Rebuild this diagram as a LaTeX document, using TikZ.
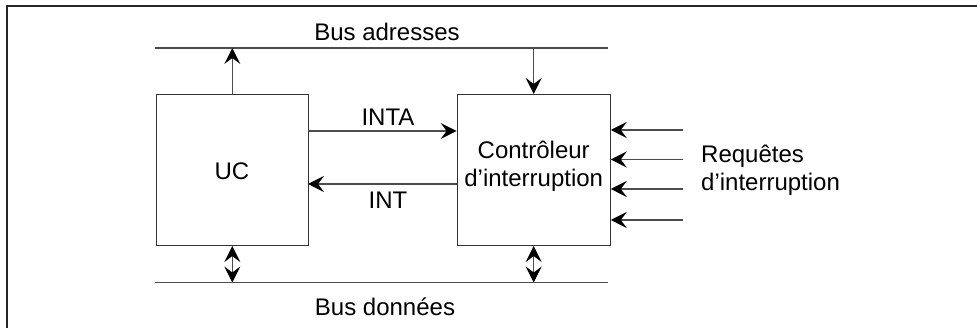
\documentclass[tikz,border=0pt]{standalone}
\usepackage{fontspec}
\setmainfont{Liberation Sans}
\usetikzlibrary{arrows.meta}
\begin{document}
\begin{tikzpicture}[x=1pt,y=-1pt,
  ln/.style={line width=1.1pt, draw=black!70},
  tp/.tip={Stealth[length=16pt,width=16pt,inset=6pt,black]},
  tip/.style={-tp},
  dtip/.style={tp-tp},
  blk/.style={line width=1.1pt, draw=black!80, minimum width=152pt, minimum height=151pt, inner sep=0pt},
  lbl/.style={font=\fontsize{24}{28}\selectfont, inner sep=0pt, align=center}
]
\useasboundingbox (0,0) rectangle (977,328);
\draw[line width=2pt, draw=black!85] (7,329) -- (7,6) -- (978,6);

\node[blk] (uc) at (232.3,170) {};
\node[blk, minimum width=153pt] (ctrl) at (533.7,170) {};
\node[lbl] (uclbl) at (232,171) {UC};
\node[lbl] (ctrllbl) at (533.7,166) {Contrôleur\\d’interruption};

% buses
\coordinate (ba1) at (155,48);
\coordinate (ba2) at (608,48);
\coordinate (bd1) at (155,282.5);
\coordinate (bd2) at (608,282.5);
\draw[ln] (ba1) -- (ba2);
\draw[ln] (bd1) -- (bd2);
\node[lbl] (balbl) at (387,32) {Bus adresses};
\node[lbl] (bdlbl) at (385,307) {Bus données};

\draw[ln, tip] (uc.north) -- (uc.north |- ba1);
\draw[ln, tip] (ctrl.north |- ba1) -- (ctrl.north);
\draw[ln, dtip] (uc.south) -- (uc.south |- bd1);
\draw[ln, dtip] (ctrl.south) -- (ctrl.south |- bd1);

% INTA / INT
\coordinate (inta) at (308,131);
\coordinate (int) at (308,184);
\draw[ln, tip] (inta) -- (inta -| ctrl.west);
\draw[ln, tip] (int -| ctrl.west) -- (int);
\node[lbl] (intalbl) at (388,117) {INTA};
\node[lbl] (intlbl) at (388,200) {INT};

% requests
\coordinate (r1) at (683,130);
\coordinate (r2) at (683,159.5);
\coordinate (r3) at (683,189);
\coordinate (r4) at (683,220);
\foreach \r in {r1,r2,r3,r4} \draw[ln, tip] (\r) -- (\r -| ctrl.east);
\node[lbl, anchor=west, align=left] (reqlbl) at (701,170.5) {Requêtes\\d’interruption};
\end{tikzpicture}
\end{document}
